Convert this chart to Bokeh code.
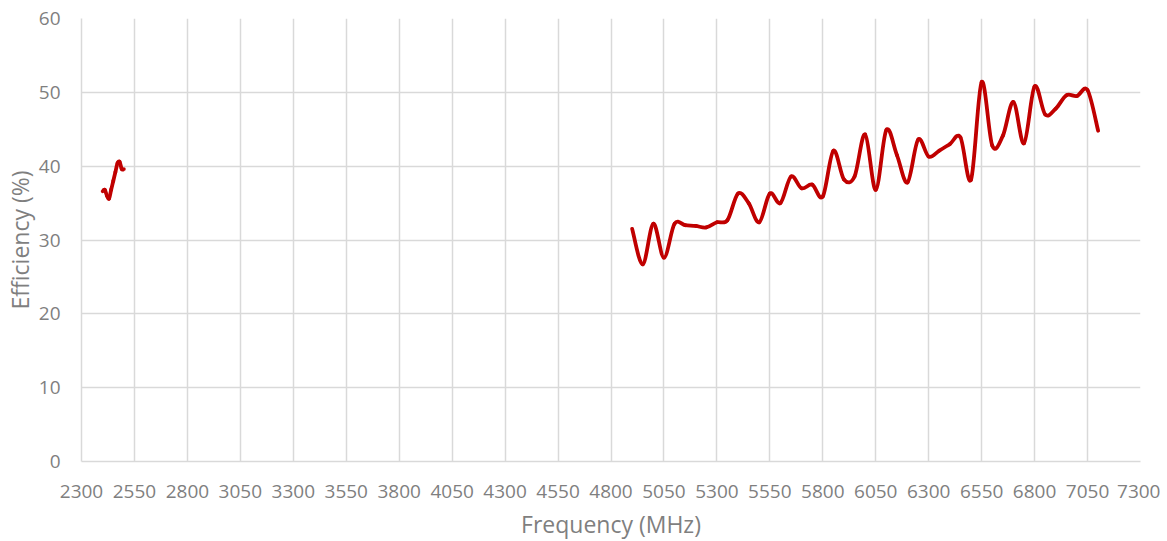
from bokeh.plotting import figure
from bokeh.models import FixedTicker, ColumnDataSource
from bokeh.embed import file_html
from bokeh.resources import INLINE

# Data
freq_24 = [2400, 2410, 2420, 2430, 2440, 2450, 2460, 2470, 2480, 2490, 2500]
eff_24 = [36.6, 36.8, 36.0, 35.6, 36.8, 38.0, 39.2, 40.4, 40.6, 39.6, 39.6]

freq_5g = [4900, 4950, 5000, 5050, 5100, 5150, 5200, 5250, 5300, 5350, 5400,
           5450, 5500, 5550, 5600, 5650, 5700, 5750, 5800, 5850, 5900, 5950,
           6000, 6050, 6100, 6150, 6200, 6250, 6300, 6350, 6400, 6450, 6500,
           6550, 6600, 6650, 6700, 6750, 6800, 6850, 6900, 6950, 7000, 7050, 7100]
eff_5g = [31.5, 26.7, 32.2, 27.6, 32.2, 32.0, 31.9, 31.7, 32.4, 32.7, 36.3,
          35.0, 32.4, 36.3, 35.0, 38.6, 37.0, 37.5, 35.9, 42.1, 38.2, 38.6,
          44.3, 36.8, 44.9, 41.5, 37.8, 43.6, 41.3, 42.1, 43.0, 43.9, 38.2,
          51.4, 42.8, 44.1, 48.7, 43.1, 50.8, 47.0, 47.8, 49.6, 49.5, 50.3, 44.8]

x_ticks = list(range(2300, 7301, 250))
y_ticks = list(range(0, 61, 10))

TEXT = "#7f7f7f"
GRID = "#d9d9d9"
LINE = "#c00000"
FONT = "Open Sans"


def smooth_segments(xs, ys):
    """Catmull-Rom style Bezier control points (like Excel's smoothed line)."""
    n = len(xs)
    d = dict(x0=[], y0=[], x1=[], y1=[], cx0=[], cy0=[], cx1=[], cy1=[])
    for i in range(n - 1):
        p0 = (xs[max(i - 1, 0)], ys[max(i - 1, 0)])
        p1 = (xs[i], ys[i])
        p2 = (xs[i + 1], ys[i + 1])
        p3 = (xs[min(i + 2, n - 1)], ys[min(i + 2, n - 1)])
        d["x0"].append(p1[0]); d["y0"].append(p1[1])
        d["x1"].append(p2[0]); d["y1"].append(p2[1])
        d["cx0"].append(p1[0] + (p2[0] - p0[0]) / 6.0)
        d["cy0"].append(p1[1] + (p2[1] - p0[1]) / 6.0)
        d["cx1"].append(p2[0] - (p3[0] - p1[0]) / 6.0)
        d["cy1"].append(p2[1] - (p3[1] - p1[1]) / 6.0)
    return ColumnDataSource(d)


p = figure(width=1151, height=535, frame_width=1059, frame_height=443,
           x_range=(2300, 7300), y_range=(0, 60),
           output_backend="svg", toolbar_location=None,
           min_border_left=72, min_border_right=20,
           min_border_top=18, min_border_bottom=74)
p.outline_line_color = None
p.background_fill_color = "white"
p.border_fill_color = "white"

for xs, ys in [(freq_24, eff_24), (freq_5g, eff_5g)]:
    src = smooth_segments(xs, ys)
    p.bezier(x0="x0", y0="y0", x1="x1", y1="y1", cx0="cx0", cy0="cy0",
             cx1="cx1", cy1="cy1", source=src, line_color=LINE,
             line_width=3.8, line_cap="round")

p.xaxis.ticker = FixedTicker(ticks=x_ticks)
p.yaxis.ticker = FixedTicker(ticks=y_ticks)
p.xgrid.ticker = FixedTicker(ticks=x_ticks)
p.ygrid.ticker = FixedTicker(ticks=y_ticks)
for g in (p.xgrid, p.ygrid):
    g.grid_line_color = GRID
    g.grid_line_width = 1.5

for ax in (p.xaxis, p.yaxis):
    ax.axis_line_color = GRID
    ax.axis_line_width = 1.5
    ax.major_tick_line_color = None
    ax.minor_tick_line_color = None
    ax.major_label_text_color = TEXT
    ax.major_label_text_font = FONT
    ax.major_label_text_font_size = "19px"
    ax.axis_label_text_color = TEXT
    ax.axis_label_text_font = FONT
    ax.axis_label_text_font_size = "23px"
    ax.axis_label_text_font_style = "normal"

p.xaxis.axis_label = "Frequency (MHz)"
p.yaxis.axis_label = "Efficiency (%)"
p.xaxis.major_label_standoff = 17
p.yaxis.major_label_standoff = 15
p.xaxis.axis_label_standoff = 7
p.yaxis.axis_label_standoff = 0

open("out.html", "w").write(file_html(p, INLINE))
